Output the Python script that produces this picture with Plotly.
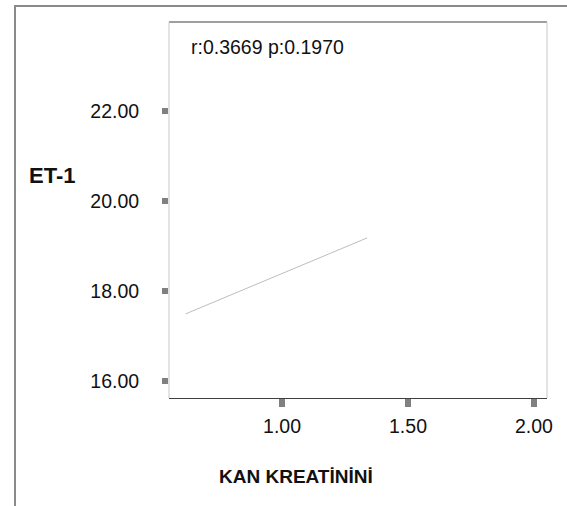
import plotly.graph_objects as go

# Data
fit_x = [0.617, 1.338]
fit_y = [17.49, 19.18]
x_ticks = [1.0, 1.5, 2.0]
x_tick_labels = ["1.00", "1.50", "2.00"]
y_ticks = [16, 18, 20, 22]
y_tick_labels = ["16.00", "18.00", "20.00", "22.00"]
stat_text = "r:0.3669 p:0.1970"
x_title = "KAN KREATİNİNİ"
y_title = "ET-1"

W, H = 567, 506
L, R, T, B = 169, 20, 22, 108
pw, ph = W - L - R, H - T - B

def px(x):
    return (x - L) / pw

def py(y):
    return (H - B - y) / ph

fig = go.Figure()
fig.add_trace(go.Scatter(x=fit_x, y=fit_y, mode="lines",
                         line=dict(color="#bdbdbd", width=1),
                         hoverinfo="skip", showlegend=False))

FAM = "Liberation Sans, Arial, sans-serif"
tfont = dict(family=FAM, size=19.5, color="#111")

fig.update_layout(
    width=W, height=H,
    margin=dict(l=L, r=R, t=T, b=B),
    paper_bgcolor="white", plot_bgcolor="white",
    showlegend=False,
    xaxis=dict(range=[0.551, 2.052], tickvals=x_ticks, ticktext=x_tick_labels,
               showgrid=False, zeroline=False, showline=True, linecolor="#404040", linewidth=1,
               ticks="outside", ticklen=8, tickwidth=6, tickcolor="#808080",
               tickfont=tfont, ticklabelstandoff=3),
    yaxis=dict(range=[15.62, 23.98], tickvals=y_ticks, ticktext=y_tick_labels,
               showgrid=False, zeroline=False, showline=False,
               ticks="outside", ticklen=6, tickwidth=6, tickcolor="#808080",
               tickfont=tfont, ticklabelstandoff=19),
)

shapes = [
    dict(type="line", xref="paper", yref="paper", x0=0, x1=1, y0=1, y1=1,
         line=dict(color="#404040", width=1)),
    dict(type="line", xref="paper", yref="paper", x0=0, x1=0, y0=0, y1=1,
         line=dict(color="#c8c8c8", width=1)),
    dict(type="line", xref="paper", yref="paper", x0=1, x1=1, y0=0, y1=1,
         line=dict(color="#c8c8c8", width=1)),
    dict(type="line", xref="paper", yref="paper", x0=px(14), x1=px(567), y0=py(6), y1=py(6),
         line=dict(color="#8a8a8a", width=2)),
    dict(type="line", xref="paper", yref="paper", x0=px(15), x1=px(15), y0=py(6), y1=py(506),
         line=dict(color="#8a8a8a", width=2)),
]
fig.update_layout(shapes=shapes)

fig.add_annotation(xref="paper", yref="paper", x=px(189), y=py(47), text=stat_text,
                   showarrow=False, xanchor="left", yanchor="middle", font=tfont)
fig.add_annotation(xref="paper", yref="paper", x=px(27), y=py(176), text="<b>" + y_title + "</b>",
                   showarrow=False, xanchor="left", yanchor="middle",
                   font=dict(family=FAM, size=22, color="#111"))
fig.add_annotation(xref="paper", yref="paper", x=px(296), y=py(476), text="<b>" + x_title + "</b>",
                   showarrow=False, xanchor="center", yanchor="middle",
                   font=dict(family="Liberation Sans Narrow, Arial Narrow, Liberation Sans, sans-serif",
                             size=19, color="#111"))

fig.write_html("out.html")
